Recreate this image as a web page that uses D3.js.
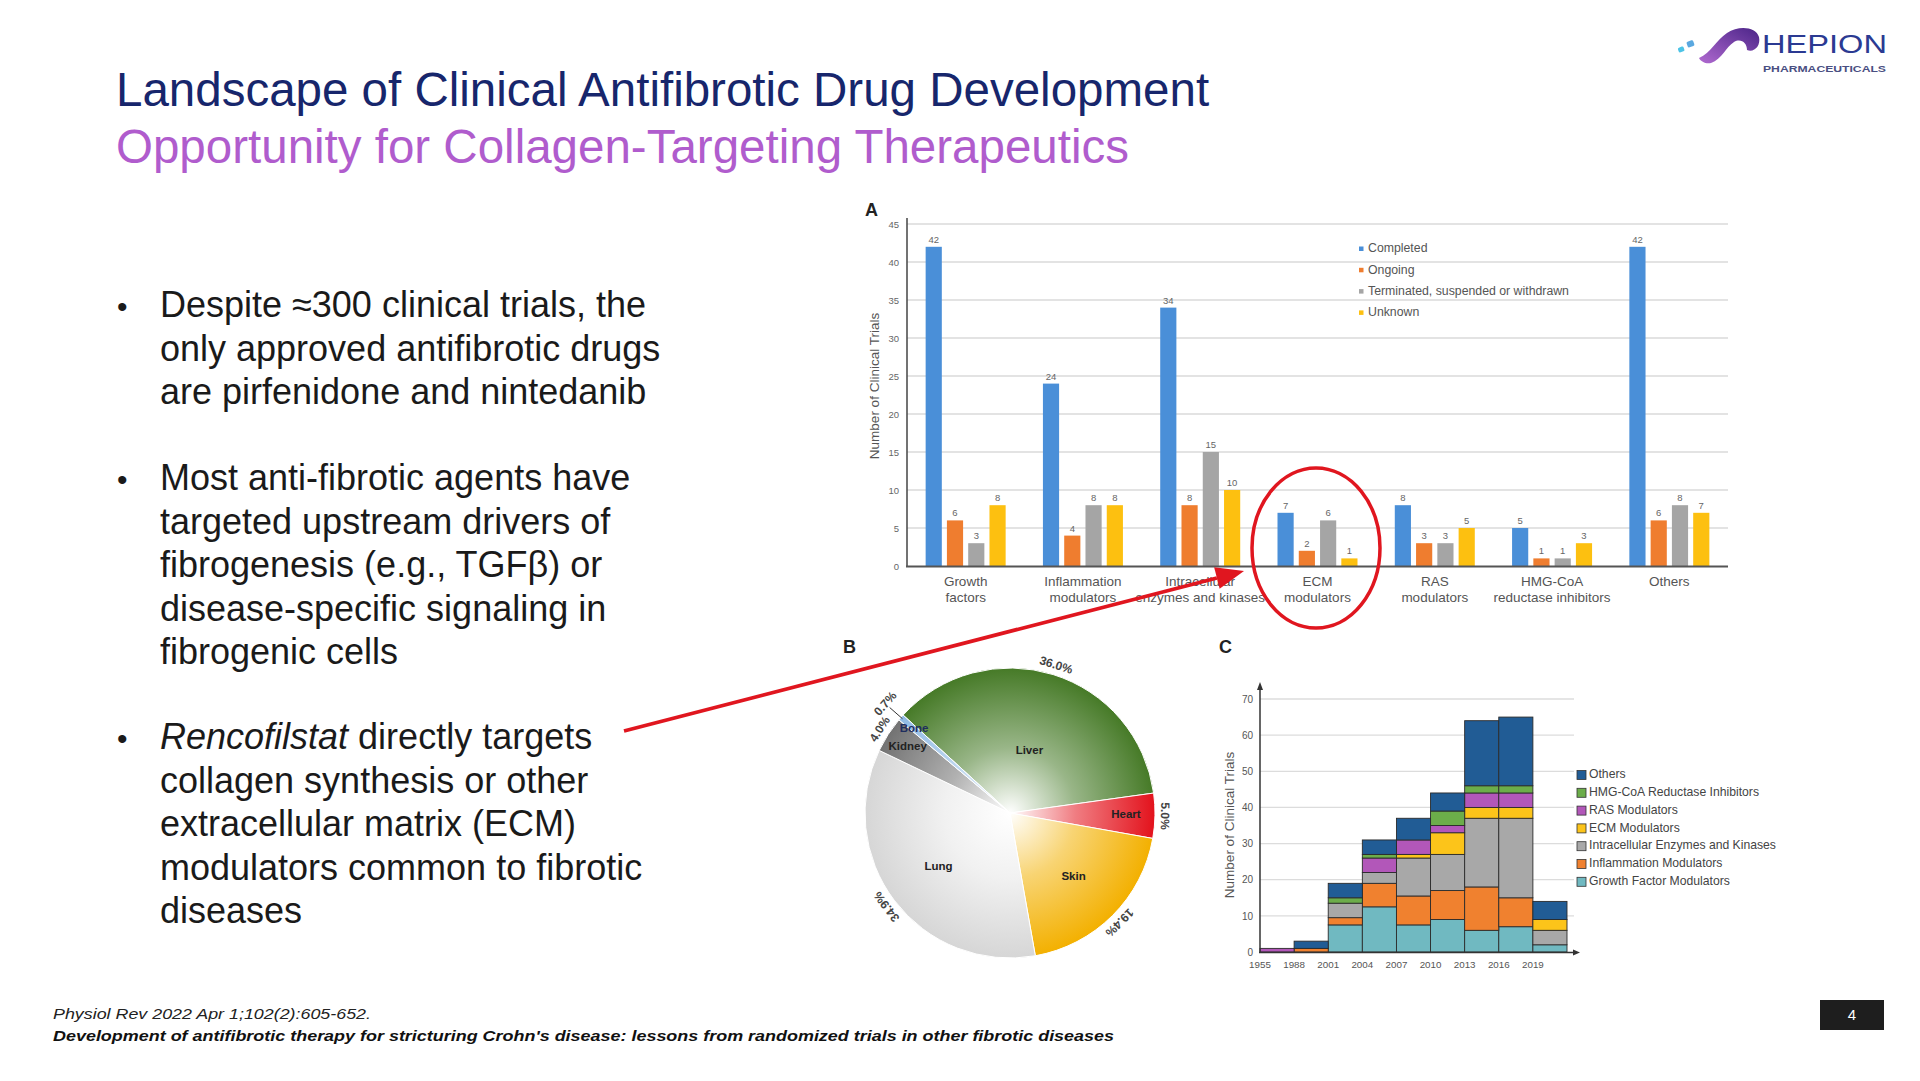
<!DOCTYPE html>
<html><head><meta charset="utf-8">
<script src="https://cdn.jsdelivr.net/npm/d3@7"></script>
<style>
body{margin:0;background:#fff;}
svg{display:block;font-family:"Liberation Sans",Arial,Helvetica,sans-serif;}
</style>
</head><body>
<svg id="s" width="1920" height="1081"></svg>
<script>
// ---------- text ----------
const titleText = "Landscape of Clinical Antifibrotic Drug Development";
const subtitleText = "Opportunity for Collagen-Targeting Therapeutics";
const bulletLines = [
  [["Despite \u2248300 clinical trials, the"], ["only approved antifibrotic drugs"], ["are pirfenidone and nintedanib"]],
  [["Most anti-fibrotic agents have"], ["targeted upstream drivers of"], ["fibrogenesis (e.g., TGF\u03b2) or"], ["disease-specific signaling in"], ["fibrogenic cells"]],
  [["Rencofilstat", " directly targets"], ["collagen synthesis or other"], ["extracellular matrix (ECM)"], ["modulators common to fibrotic"], ["diseases"]]
];
const footer1 = "Physiol Rev 2022 Apr 1;102(2):605-652.";
const footer2 = "Development of antifibrotic therapy for stricturing Crohn's disease: lessons from randomized trials in other fibrotic diseases";
const pageNumber = "4";

// ---------- chart A data ----------
const categoriesA = ["Growth factors","Inflammation modulators","Intracellular enzymes and kinases","ECM modulators","RAS modulators","HMG-CoA reductase inhibitors","Others"];
const categoryLinesA = [["Growth","factors"],["Inflammation","modulators"],["Intracellular","enzymes and kinases"],["ECM","modulators"],["RAS","modulators"],["HMG-CoA","reductase inhibitors"],["Others"]];
const seriesA = ["Completed","Ongoing","Terminated, suspended or withdrawn","Unknown"];
const completedA = [42,24,34,7,8,5,42];
const ongoingA = [6,4,8,2,3,1,6];
const terminatedA = [3,8,15,6,3,1,8];
const unknownA = [8,8,10,1,5,3,7];
const yTicksA = [0,5,10,15,20,25,30,35,40,45];
const colorsA = ["#4a8fd8","#ef7d2f","#a5a5a5","#fdc010"];

// ---------- chart B data ----------
const organs = ["Liver","Heart","Skin","Lung","Kidney","Bone"];
const organShares = [36.0,5.0,19.4,34.9,4.0,0.7];
const organPctLabels = ["36.0%","5.0%","19.4%","34.9%","4.0%","0.7%"];
const organColors = ["#467a27","#e3121c","#f3b000","#d6d6d6","#727272","#8fb9e4"];

// ---------- chart C data ----------
const periods = ["1955","1988","2001","2004","2007","2010","2013","2016","2019"];
const seriesC = ["Growth Factor Modulators","Inflammation Modulators","Intracellular Enzymes and Kinases","ECM Modulators","RAS Modulators","HMG-CoA Reductase Inhibitors","Others"];
const growthC = [0,0,7.5,12.5,7.5,9,6,7,2];
const inflammationC = [0,1,2,6.5,8,8,12,8,0];
const intracellularC = [0,0,4,3,10.5,10,19,22,4];
const ecmC = [0,0,0,0,1,6,3,3,3];
const rasC = [1,0,0,4,4,2,4,4,0];
const hmgC = [0,0,1.5,1,0,4,2,2,0];
const othersC = [0,2,4,4,6,5,18,19,5];
const yTicksC = [0,10,20,30,40,50,60,70];
const colorsC = ["#70b9c1","#f0812f","#a8a8a8","#fcc41a","#b257b9","#6cad4a","#215c95"];

const svg = d3.select("#s");
svg.append("rect").attr("width",1920).attr("height",1081).attr("fill","#fff");
const defs = svg.append("defs");

// ---------- titles ----------
svg.append("text").attr("x",116).attr("y",106).attr("font-size",47.5).attr("fill","#17266c").text(titleText);
svg.append("text").attr("x",116).attr("y",163).attr("font-size",47.5).attr("fill","#b05ccd").text(subtitleText);

// ---------- bullets ----------
const bulletStarts = [317, 490, 749];
bulletLines.forEach((lines, bi) => {
  svg.append("text").attr("x",117).attr("y",bulletStarts[bi]).attr("font-size",30).attr("fill","#1a1a1a").text("\u2022");
  lines.forEach((parts, li) => {
    const t = svg.append("text").attr("x",160).attr("y",bulletStarts[bi] + li*43.5).attr("font-size",36).attr("fill","#1a1a1a");
    parts.forEach((p, pi) => {
      const sp = t.append("tspan").text(p);
      if (bi === 2 && li === 0 && pi === 0) sp.attr("font-style","italic");
    });
  });
});

// ---------- logo ----------
const lg = svg.append("g");
const lgGrad = defs.append("linearGradient").attr("id","logoG").attr("x1","0").attr("y1","1").attr("x2","1").attr("y2","0");
lgGrad.append("stop").attr("offset",0).attr("stop-color","#b06ad0");
lgGrad.append("stop").attr("offset",1).attr("stop-color","#4b2488");
lg.append("path").attr("d","M1699,58 C1711,53 1716,40 1727,33 C1739,25 1756,27 1759,37 C1761,46 1754,53 1747,50 C1747,43 1741,38 1734,42 C1726,47 1722,59 1711,63 C1706,64 1701,62 1699,58 Z").attr("fill","url(#logoG)");
lg.append("rect").attr("x",1678).attr("y",47).attr("width",6).attr("height",5).attr("rx",1.5).attr("fill","#4cc3e6").attr("transform","rotate(-20 1681 49)");
lg.append("rect").attr("x",1687).attr("y",41).attr("width",7).attr("height",6).attr("rx",1.5).attr("fill","#5aa8e0").attr("transform","rotate(-20 1690 44)");
lg.append("text").attr("x",1762).attr("y",53).attr("font-size",26).attr("fill","#2b3a92").attr("textLength",125).attr("lengthAdjust","spacingAndGlyphs").text("HEPION");
lg.append("text").attr("x",1763).attr("y",72).attr("font-size",8.5).attr("font-weight","bold").attr("fill","#4a4f82").attr("textLength",123).attr("lengthAdjust","spacingAndGlyphs").text("PHARMACEUTICALS");

// ---------- chart A ----------
const gA = svg.append("g");
const xA = d3.scaleBand().domain(categoriesA).range([907,1728]);
const groupW = 80;
const xA1 = d3.scaleBand().domain(seriesA).range([0,groupW]).paddingInner(0.24);
const yA = d3.scaleLinear().domain([0,45]).range([566,224]);
const valuesA = [completedA, ongoingA, terminatedA, unknownA];

gA.selectAll("line.grid").data(yTicksA.filter(d=>d>0)).join("line")
  .attr("x1",907).attr("x2",1728).attr("y1",d=>yA(d)).attr("y2",d=>yA(d))
  .attr("stroke","#dadada").attr("stroke-width",1.3);
const axA = gA.append("g").attr("transform","translate(907,0)")
  .call(d3.axisLeft(yA).tickValues(yTicksA).tickSize(0).tickPadding(8));
axA.select(".domain").remove();
axA.selectAll("text").attr("font-size",9.5).attr("fill","#666").attr("font-family","Liberation Sans, Arial");

seriesA.forEach((s, si) => {
  const vals = valuesA[si];
  categoriesA.forEach((c, ci) => {
    const x = xA(c) + (xA.bandwidth()-groupW)/2 + xA1(s);
    gA.append("rect").attr("x",x).attr("y",yA(vals[ci])).attr("width",xA1.bandwidth())
      .attr("height",yA(0)-yA(vals[ci])).attr("fill",colorsA[si]);
    gA.append("text").attr("x",x + xA1.bandwidth()/2).attr("y",yA(vals[ci])-4)
      .attr("text-anchor","middle").attr("font-size",9.5).attr("fill","#666").text(vals[ci]);
  });
});
gA.append("line").attr("x1",907).attr("x2",907).attr("y1",218).attr("y2",567).attr("stroke","#444").attr("stroke-width",1.5);
gA.append("line").attr("x1",906).attr("x2",1728).attr("y1",566.5).attr("y2",566.5).attr("stroke","#555").attr("stroke-width",2);

categoriesA.forEach((c, ci) => {
  const t = gA.append("text").attr("text-anchor","middle").attr("font-size",13.5).attr("fill","#555");
  categoryLinesA[ci].forEach((ln, li) => {
    t.append("tspan").attr("x", xA(c) + xA.bandwidth()/2).attr("y", 585.5 + li*16.5).text(ln);
  });
});
gA.append("text").attr("transform","translate(879,386) rotate(-90)").attr("text-anchor","middle")
  .attr("font-size",13.5).attr("fill","#555").text("Number of Clinical Trials");
gA.append("text").attr("x",865).attr("y",216).attr("font-size",18).attr("font-weight","bold").attr("fill","#222").text("A");

seriesA.forEach((s, si) => {
  const y = 249 + si*21.3;
  gA.append("rect").attr("x",1359).attr("y",y-2.5).attr("width",4.5).attr("height",4.5).attr("fill",colorsA[si]);
  gA.append("text").attr("x",1368).attr("y",y).attr("dominant-baseline","middle").attr("font-size",12.3).attr("fill","#555").text(s);
});

// ---------- chart B (pie) ----------
const cx = 1010, cy = 813, R = 145;
const gB = svg.append("g").attr("transform",`translate(${cx},${cy})`);
const start = -47.5*Math.PI/180;
const pie = d3.pie().sort(null).value(d=>d).startAngle(start).endAngle(start + 2*Math.PI);
const arcsB = pie(organShares);
const arcB = d3.arc().innerRadius(0).outerRadius(R);
organs.forEach((o, i) => {
  const g = defs.append("radialGradient").attr("id","pg"+i).attr("gradientUnits","userSpaceOnUse")
    .attr("cx",0).attr("cy",0).attr("r",R).attr("fx",0).attr("fy",0);
  g.append("stop").attr("offset",0).attr("stop-color","#ffffff");
  g.append("stop").attr("offset",0.45).attr("stop-color",d3.interpolateRgb("#ffffff",organColors[i])(i===3 ? 0.35 : 0.55));
  g.append("stop").attr("offset",1).attr("stop-color",organColors[i]);
});
gB.selectAll("path.slice").data(arcsB).join("path")
  .attr("d",arcB).attr("fill",(d,i)=>`url(#pg${i})`).attr("stroke","#fff").attr("stroke-width",1);

const innerR = [0.45,0.8,0.62,0.62,0.84,0.88];
arcsB.forEach((a, i) => {
  const m = (a.startAngle + a.endAngle)/2;
  const r = R*innerR[i];
  gB.append("text").attr("x",r*Math.sin(m)).attr("y",-r*Math.cos(m)).attr("text-anchor","middle")
    .attr("dominant-baseline","middle").attr("font-size",11.5).attr("font-weight","bold")
    .attr("fill", i===5 ? "#1f2d5e" : "#222").text(organs[i]);
  const rr = i===5 ? R+17 : R+6;
  const deg = m*180/Math.PI;
  gB.append("text").attr("transform",`translate(${rr*Math.sin(m)},${-rr*Math.cos(m)}) rotate(${deg})`)
    .attr("text-anchor","middle").attr("font-size",12).attr("font-weight","bold").attr("fill","#444").text(organPctLabels[i]);
  if (i===5) {
    gB.append("line").attr("x1",(R-2)*Math.sin(m)).attr("y1",-(R-2)*Math.cos(m))
      .attr("x2",(R+15)*Math.sin(m)).attr("y2",-(R+15)*Math.cos(m)).attr("stroke","#333").attr("stroke-width",1);
  }
});
svg.append("text").attr("x",843).attr("y",653).attr("font-size",18).attr("font-weight","bold").attr("fill","#222").text("B");

// ---------- chart C ----------
const gC = svg.append("g");
const xC = d3.scaleBand().domain(periods).range([1260,1567]);
const yC = d3.scaleLinear().domain([0,70]).range([952,699]);
const tableC = periods.map((p, i) => ({
  period: p,
  [seriesC[0]]: growthC[i], [seriesC[1]]: inflammationC[i], [seriesC[2]]: intracellularC[i],
  [seriesC[3]]: ecmC[i], [seriesC[4]]: rasC[i], [seriesC[5]]: hmgC[i], [seriesC[6]]: othersC[i]
}));
const stackC = d3.stack().keys(seriesC)(tableC);
gC.selectAll("line.grid").data(yTicksC.filter(d=>d>0)).join("line")
  .attr("x1",1260).attr("x2",1574).attr("y1",d=>yC(d)).attr("y2",d=>yC(d))
  .attr("stroke","#dcdcdc").attr("stroke-width",1.3);
stackC.forEach((layer, li) => {
  layer.forEach((d, i) => {
    if (d[1]-d[0] <= 0) return;
    gC.append("rect").attr("x",xC(periods[i])).attr("y",yC(d[1])).attr("width",xC.bandwidth())
      .attr("height",yC(d[0])-yC(d[1])).attr("fill",colorsC[li]).attr("stroke","#2b2b2b").attr("stroke-width",0.9);
  });
});
const axC = gC.append("g").attr("transform","translate(1260,0)")
  .call(d3.axisLeft(yC).tickValues(yTicksC).tickSize(0).tickPadding(7));
axC.select(".domain").remove();
axC.selectAll("text").attr("font-size",10).attr("fill","#555").attr("font-family","Liberation Sans, Arial");
periods.forEach(p => {
  gC.append("text").attr("x",xC(p)).attr("y",967.5).attr("text-anchor","middle").attr("font-size",9.8).attr("fill","#555").text(p);
});
gC.append("line").attr("x1",1260).attr("x2",1260).attr("y1",953).attr("y2",688).attr("stroke","#333").attr("stroke-width",1.5);
gC.append("path").attr("d","M1257,690 L1260,682 L1263,690 Z").attr("fill","#333");
gC.append("line").attr("x1",1259).attr("x2",1575).attr("y1",952.5).attr("y2",952.5).attr("stroke","#333").attr("stroke-width",1.5);
gC.append("path").attr("d","M1573,949.5 L1580,952.5 L1573,955.5 Z").attr("fill","#333");
gC.append("text").attr("transform","translate(1234,825) rotate(-90)").attr("text-anchor","middle")
  .attr("font-size",13.5).attr("fill","#555").text("Number of Clinical Trials");
svg.append("text").attr("x",1219).attr("y",653).attr("font-size",18).attr("font-weight","bold").attr("fill","#222").text("C");
seriesC.slice().reverse().forEach((s, k) => {
  const li = seriesC.length-1-k;
  const y = 775 + k*17.8;
  gC.append("rect").attr("x",1577).attr("y",y-4.5).attr("width",9).attr("height",9)
    .attr("fill",colorsC[li]).attr("stroke","#333").attr("stroke-width",0.8);
  gC.append("text").attr("x",1589).attr("y",y).attr("dominant-baseline","middle").attr("font-size",12.2).attr("fill","#444").text(s);
});

// ---------- annotations ----------
svg.append("ellipse").attr("cx",1316).attr("cy",548).attr("rx",64).attr("ry",80)
  .attr("fill","none").attr("stroke","#e0161f").attr("stroke-width",3.5);
const ax0 = 624, ay0 = 731, ax1 = 1244, ay1 = 571;
const L = Math.hypot(ax1-ax0, ay1-ay0), ux = (ax1-ax0)/L, uy = (ay1-ay0)/L;
const bx = ax1 - 28*ux, by = ay1 - 28*uy;
svg.append("line").attr("x1",ax0).attr("y1",ay0).attr("x2",bx).attr("y2",by).attr("stroke","#e0161f").attr("stroke-width",3.8);
svg.append("path").attr("d",`M${ax1},${ay1} L${bx - 11*uy},${by + 11*ux} L${bx + 11*uy},${by - 11*ux} Z`).attr("fill","#e0161f");

// ---------- footer ----------
svg.append("text").attr("x",53).attr("y",1019).attr("font-size",15).attr("font-style","italic").attr("fill","#222")
  .attr("font-family","'Liberation Sans Narrow','Liberation Sans',Arial")
  .attr("textLength",318).attr("lengthAdjust","spacingAndGlyphs").text(footer1);
svg.append("text").attr("x",53).attr("y",1041).attr("font-size",15).attr("font-style","italic").attr("font-weight","bold").attr("fill","#111")
  .attr("font-family","'Liberation Sans Narrow','Liberation Sans',Arial")
  .attr("textLength",1061).attr("lengthAdjust","spacingAndGlyphs").text(footer2);
svg.append("rect").attr("x",1820).attr("y",1000).attr("width",64).attr("height",30).attr("fill","#1e1e1e");
svg.append("text").attr("x",1852).attr("y",1020).attr("text-anchor","middle").attr("font-size",15).attr("fill","#fff").text(pageNumber);
</script>
</body></html>
